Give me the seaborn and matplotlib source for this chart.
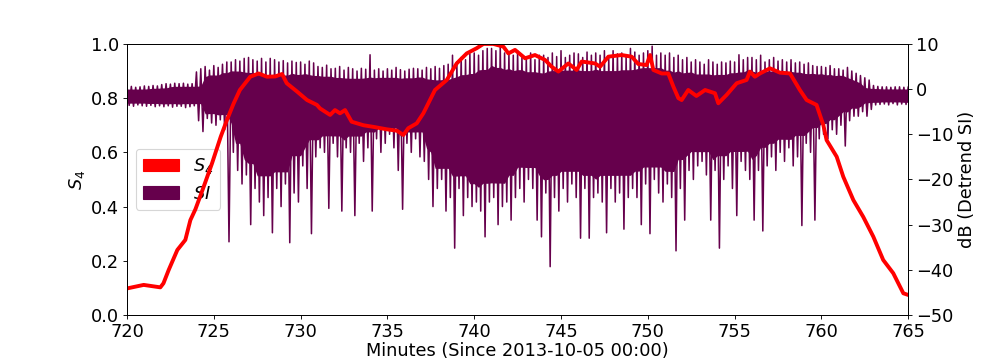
import numpy as np
import pandas as pd
import matplotlib
matplotlib.use("Agg")
import matplotlib.pyplot as plt
import matplotlib.patches as mpatches
import seaborn as sns

# S4 index (left axis)
s4_time = [720.0, 720.96, 721.92, 722.1, 722.4, 722.9, 723.36, 723.65, 723.94,
           724.4, 724.9, 725.4, 725.76, 726.14, 726.5, 727.1, 727.58, 728.06,
           728.54, 728.93, 729.2, 729.8, 730.37, 730.94, 731.12, 731.7, 731.98,
           732.27, 732.56, 732.94, 733.62, 734.19, 734.96, 735.54, 735.92, 736.2,
           736.69, 737.07, 737.74, 738.42, 738.99, 739.57, 740.14, 740.53, 741.1,
           741.68, 741.97, 742.35, 742.93, 743.5, 744.08, 744.46, 744.85, 745.42,
           745.9, 746.19, 746.96, 747.25, 747.73, 748.49, 749.07, 749.45, 749.93,
           750.13, 750.32, 750.8, 751.18, 751.47, 751.76, 751.95, 752.33, 752.8,
           753.3, 753.87, 754.06, 754.54, 755.12, 755.69, 755.88, 756.17, 756.46,
           757.04, 757.61, 758.19, 758.76, 759.15, 759.72, 760.11, 760.3, 760.88,
           761.26, 761.84, 762.41, 762.99, 763.56, 764.14, 764.72, 765.0]
s4_vals = [0.098, 0.111, 0.102, 0.117, 0.166, 0.24, 0.277, 0.35, 0.39,
           0.47, 0.56, 0.658, 0.72, 0.78, 0.83, 0.879, 0.891, 0.879,
           0.88, 0.889, 0.855, 0.824, 0.793, 0.775, 0.762, 0.738, 0.756,
           0.744, 0.756, 0.713, 0.70, 0.694, 0.685, 0.68, 0.664, 0.689,
           0.707, 0.744, 0.83, 0.867, 0.928, 0.965, 0.984, 1.0, 1.0,
           0.99, 0.965, 0.978, 0.947, 0.959, 0.941, 0.916, 0.898, 0.928,
           0.904, 0.935, 0.928, 0.916, 0.953, 0.959, 0.953, 0.926, 0.922,
           0.959, 0.904, 0.891, 0.891, 0.843, 0.80, 0.793, 0.83, 0.808,
           0.83, 0.818, 0.781, 0.812, 0.855, 0.867, 0.898, 0.879, 0.891,
           0.91, 0.894, 0.891, 0.83, 0.793, 0.775, 0.701, 0.645, 0.584,
           0.51, 0.424, 0.362, 0.289, 0.203, 0.154, 0.08, 0.074]

# detrended SI (right axis, dB): peak / trough per quarter minute, 720..765
si_max = [0.5, 0.6, 0.4, 0.5,  0.7, 0.6, 0.8, 0.7,  1.0, 1.2, 1.1, 1.3,
          1.2, 1.3, 1.1, 1.2,  3.8, 4.5, 5.0, 4.2,  5.2, 4.8, 5.5, 6.0,
          6.0, 6.5, 6.2, 6.8,  7.0, 6.5, 6.2, 6.8,  6.0, 6.8, 6.5, 6.0,
          6.3, 5.8, 6.2, 5.9,  6.0, 5.5, 6.2, 5.8,  5.0, 4.8, 5.3, 4.5,
          4.6, 5.0, 4.2, 4.8,  4.5, 4.0, 4.6, 4.4,  7.6, 4.2, 4.5, 4.0,
          4.5, 4.2, 4.8, 4.3,  4.0, 4.4, 4.6, 4.5,  4.2, 4.8, 4.5, 5.0,
          4.6, 5.2, 5.5, 7.5,  6.0, 7.0, 6.5, 7.8,  8.0, 7.5, 8.5, 9.0,
          9.0, 8.5, 9.5, 8.0,  8.0, 7.5, 8.5, 7.0,  7.0, 8.0, 6.5, 7.5,
          7.5, 7.0, 8.0, 7.2,  8.5, 7.0, 7.5, 8.0,  7.8, 7.0, 8.2, 7.5,
          8.0, 7.5, 8.5, 7.0,  8.5, 7.8, 8.0, 7.2,  9.0, 8.2, 7.5, 8.0,
          8.5, 9.5, 7.5, 8.0,  7.5, 8.0, 7.0, 7.5,  6.5, 7.0, 6.0, 6.5,
          6.0, 5.5, 6.5, 6.0,  5.5, 6.0, 5.8, 6.2,  6.0, 7.6, 6.5, 7.0,
          7.0, 6.5, 7.5, 6.0,  6.5, 7.0, 6.2, 6.5,  6.0, 6.5, 5.8, 6.0,
          5.5, 5.8, 5.2, 5.0,  5.0, 4.8, 5.2, 4.5,  4.5, 4.2, 4.8, 4.0,
          3.5, 3.0, 2.5, 2.0,  0.8, 0.6, 0.5, 0.5,  0.4, 0.5, 0.5, 0.4,
          0.5]
si_min = [-3.6, -3.8, -3.5, -3.7,  -3.8, -3.6, -3.9, -3.7,  -3.9, -3.7, -4.0, -3.8,
          -3.8, -4.1, -3.9, -3.7,  -7.0, -9.4, -6.5, -7.5,  -8.0, -6.8, -9.0, -33.8,
          -14, -18, -21, -19,  -30, -22, -25, -28,  -24, -31.8, -22, -26,
          -21, -34, -23, -25,  -17, -22, -32, -15,  -13, -14, -26.4, -12,
          -15, -27, -13, -14,  -28, -12, -16, -13,  -27, -11, -14, -12,
          -10, -13, -18, -26.6,  -12, -14, -11, -15,  -16, -20, -26, -22,
          -20, -27, -24, -35.2,  -22, -28, -24, -26,  -25, -27, -32.7, -25,
          -24, -30, -26, -25,  -29, -24, -22, -25,  -20, -22, -29, -32.7,
          -23, -39.3, -24, -27,  -22, -25, -21, -24,  -33, -22, -33, -24,
          -23, -25, -31.8, -22,  -25, -23, -31, -24,  -22, -24, -30, -21,
          -32, -20, -23, -25,  -21, -24, -35.8, -22,  -29, -18, -20, -17,
          -16, -19, -29, -18,  -35.2, -20, -17, -22,  -28, -16, -18, -20,
          -29, -18, -31.4, -17,  -15, -18, -14, -16,  -13, -17, -15, -30.2,
          -12, -14, -29, -11,  -10, -11, -9, -10,  -8, -12.6, -7, -6,
          -6, -5, -6, -4.5,  -3.5, -3.4, -3.3, -3.5,  -3.2, -3.5, -3.3, -3.4,
          -3.3]

S4_COLOR = "#ff0000"
SI_COLOR = "#66004c"

plt.rcParams["font.size"] = 16

si_t = np.arange(len(si_max)) * 0.25 + 720.0
si = pd.DataFrame({"t": si_t, "hi": si_max, "lo": si_min})
# solid body of the trace: ignore isolated spikes, keep the inner part
lo = si["lo"].rolling(5, center=True, min_periods=1).max()
hi = si["hi"].rolling(5, center=True, min_periods=1).min()
mid = (lo + hi) / 2
si["body_lo"] = mid + 0.8 * (lo - mid)
si["body_hi"] = mid + 0.8 * (hi - mid)

# zigzag between each quarter-minute peak and trough
zig = pd.DataFrame({
    "t": np.column_stack([si_t, si_t + 0.125]).ravel(),
    "db": np.column_stack([si_max, si_min]).ravel(),
})
s4 = pd.DataFrame({"t": s4_time, "s4": s4_vals})

fig = plt.figure(figsize=(12.6, 4.5), dpi=80)
ax1 = fig.add_axes([0.126, 0.125, 0.775, 0.753])
ax2 = ax1.twinx()

ax2.fill_between(si["t"], si["body_lo"], si["body_hi"], color=SI_COLOR, lw=0)
sns.lineplot(data=zig, x="t", y="db", ax=ax2, color=SI_COLOR, lw=1.4,
             sort=False, estimator=None)
sns.lineplot(data=s4, x="t", y="s4", ax=ax1, color=S4_COLOR, lw=3.5,
             sort=False, estimator=None)

# left axis (red S4) drawn above the SI trace
ax1.set_zorder(ax2.get_zorder() + 1)
ax1.patch.set_visible(False)

ax1.set_xlim(720, 765)
ax1.set_ylim(0, 1)
ax2.set_ylim(-50, 10)
ax1.set_xticks(np.arange(720, 766, 5))
ax1.set_xlabel("Minutes (Since 2013-10-05 00:00)", labelpad=1)
ax1.set_ylabel("$S_4$")
ax2.set_xlabel("")
ax2.set_ylabel("dB (Detrend SI)")

handles = [mpatches.Patch(color=S4_COLOR, label="$S_4$"),
           mpatches.Patch(color=SI_COLOR, label="$SI$")]
ax2.legend(handles=handles, loc="center left", fontsize=16)

fig.savefig("out.png", dpi=80)
